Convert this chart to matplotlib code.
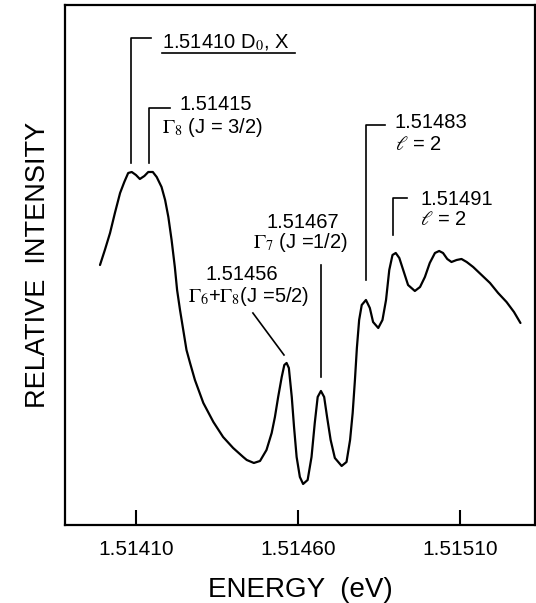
"""Photoluminescence-style spectrum with labelled fine-structure peaks."""
import matplotlib
matplotlib.use("Agg")
import matplotlib.pyplot as plt  # noqa: E402

plt.rcParams["font.family"] = ["Liberation Sans", "DejaVu Sans"]
plt.rcParams["mathtext.fontset"] = "stix"

# spectrum (energy in eV, intensity in arbitrary units)
energy_ev = [
    1.513989, 1.514004, 1.514020, 1.514035, 1.514051, 1.514064, 1.514076,
    1.514087, 1.514100, 1.514112, 1.514126, 1.514138, 1.514152, 1.514164,
    1.514179, 1.514190, 1.514200, 1.514210, 1.514220, 1.514227, 1.514236,
    1.514246, 1.514256, 1.514267, 1.514282, 1.514308, 1.514339, 1.514369,
    1.514400, 1.514431, 1.514442, 1.514464, 1.514483, 1.514503, 1.514519,
    1.514529, 1.514539, 1.514550, 1.514558, 1.514565, 1.514572, 1.514581,
    1.514588, 1.514596, 1.514606, 1.514616, 1.514630, 1.514642, 1.514652,
    1.514661, 1.514671, 1.514681, 1.514690, 1.514701, 1.514714, 1.514735,
    1.514750, 1.514761, 1.514769, 1.514776, 1.514782, 1.514789, 1.514797,
    1.514810, 1.514822, 1.514832, 1.514848, 1.514861, 1.514872, 1.514882,
    1.514892, 1.514902, 1.514913, 1.514925, 1.514940, 1.514961, 1.514977,
    1.514992, 1.515007, 1.515023, 1.515036, 1.515048, 1.515061, 1.515074,
    1.515090, 1.515105, 1.515121, 1.515141, 1.515167, 1.515193, 1.515218,
    1.515244, 1.515267, 1.515287,
]
intensity = [
    260, 275, 292, 312, 332, 343, 352,
    353, 350, 346, 349, 353, 353, 348,
    338, 325, 308, 285, 258, 235, 215,
    195, 175, 162, 145, 122, 103, 88,
    77, 68, 65, 62, 64, 75, 92,
    108, 128, 148, 160, 162, 157, 128,
    98, 68, 48, 41, 45, 68, 102,
    128, 134, 128, 108, 85, 67, 59,
    63, 85, 112, 145, 177, 205, 220,
    225, 217, 203, 197, 205, 225, 255,
    270, 272, 267, 255, 240, 234, 238,
    248, 262, 272, 274, 272, 266, 263,
    265, 266, 263, 258, 250, 242, 232,
    223, 213, 202,
]

xticks = [1.51410, 1.51460, 1.51510]

# peak labels (first line, second line)
peak_lines = ["1.51410 D$_0$, X", "1.51415", "1.51456", "1.51467", "1.51483", "1.51491"]
peak_sub = ["", r"$\Gamma_8$ (J = 3/2)", r"$\Gamma_6$+$\Gamma_8$(J =5/2)",
            r"$\Gamma_7$ (J =1/2)", r"$\ell$ = 2", r"$\ell$ = 2"]

# leader lines and text anchors (data coords)
leaders = [
    [(1.514085, 362), (1.514085, 487), (1.514146, 487)],
    [(1.514140, 362), (1.514140, 417), (1.514205, 417)],
    [(1.514461, 212), (1.514557, 170)],
    [(1.514671, 260), (1.514671, 148)],
    [(1.514810, 245), (1.514810, 400), (1.514869, 400)],
    [(1.514893, 290), (1.514893, 327), (1.514936, 327)],
]
text_pos = [  # (x1, y1, x2, y2, ha)
    (1.514180, 482, None, None, "left"),
    (1.514233, 420, 1.514180, 397, "left"),
    (1.514427, 250, 1.514449, 228, "center"),
    (1.514615, 302, 1.514609, 282, "center"),
    (1.514899, 402, 1.514899, 380, "left"),
    (1.514977, 325, 1.514977, 305, "left"),
]

fig = plt.figure(figsize=(5.36, 6.03), dpi=100)
ax = fig.add_axes([0.1213, 0.1294, 0.8769, 0.8623])

ax.plot(energy_ev, intensity, color="black", lw=1.6,
        solid_joinstyle="round", solid_capstyle="round")

for pts, (x1, y1, x2, y2, ha), l1, l2 in zip(leaders, text_pos, peak_lines, peak_sub):
    xs, ys = zip(*pts)
    ax.plot(xs, ys, color="black", lw=1.2)
    ax.text(x1, y1, l1, ha=ha, va="center", fontsize=14.5)
    if l2:
        ax.text(x2, y2, l2, ha=ha, va="center", fontsize=14.5)

# underline under the D0,X label
ax.plot([1.514180, 1.514591], [472, 472], color="black", lw=1.2)

ax.set_xlim(1.513881, 1.515332)
ax.set_ylim(0, 520)
ax.set_yticks([])
ax.set_xticks(xticks)
ax.set_xticklabels([f"{t:.5f}" for t in xticks])
ax.tick_params(axis="x", direction="in", length=11, width=1.5, pad=11, labelsize=15)
for sp in ax.spines.values():
    sp.set_linewidth(1.6)

ax.set_xlabel("ENERGY  (eV)", fontsize=20, labelpad=13)
ax.set_ylabel("RELATIVE  INTENSITY", fontsize=19.5, labelpad=10)

fig.savefig("out.png", dpi=100)
